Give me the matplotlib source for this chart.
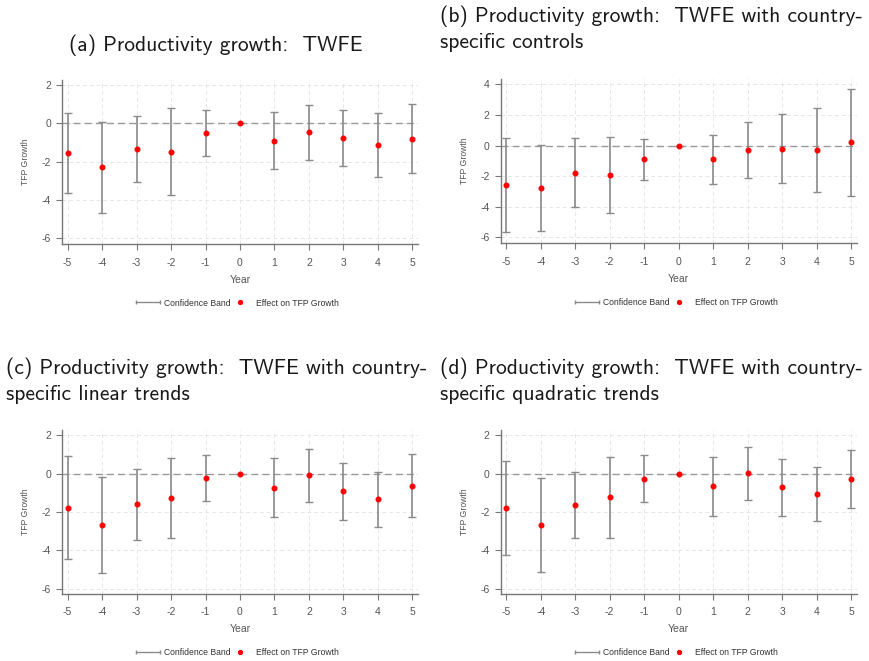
import matplotlib
matplotlib.use("Agg")
import matplotlib.pyplot as plt
from matplotlib.lines import Line2D
from matplotlib.legend_handler import HandlerLine2D
import numpy as np

years = [-5, -4, -3, -2, -1, 0, 1, 2, 3, 4, 5]

# (a) TWFE
a_est = [-1.57, -2.30, -1.32, -1.48, -0.52, 0.0, -0.90, -0.47, -0.77, -1.13, -0.80]
a_hi = [0.52, 0.09, 0.38, 0.80, 0.68, 0.0, 0.59, 0.97, 0.70, 0.52, 1.03]
a_lo = [-3.65, -4.70, -3.04, -3.76, -1.72, 0.0, -2.40, -1.91, -2.23, -2.78, -2.61]

# (b) TWFE with country-specific controls
b_est = [-2.57, -2.76, -1.78, -1.93, -0.89, 0.0, -0.91, -0.26, -0.20, -0.30, 0.20]
b_hi = [0.50, 0.04, 0.52, 0.54, 0.46, 0.0, 0.72, 1.54, 2.09, 2.43, 3.72]
b_lo = [-5.63, -5.57, -4.04, -4.39, -2.22, 0.0, -2.50, -2.09, -2.43, -3.02, -3.30]

# (c) TWFE with country-specific linear trends
c_est = [-1.77, -2.66, -1.60, -1.25, -0.23, 0.0, -0.73, -0.09, -0.90, -1.34, -0.63]
c_hi = [0.94, -0.17, 0.26, 0.83, 0.99, 0.0, 0.82, 1.29, 0.57, 0.10, 1.03]
c_lo = [-4.43, -5.15, -3.44, -3.34, -1.44, 0.0, -2.26, -1.46, -2.40, -2.80, -2.26]

# (d) TWFE with country-specific quadratic trends
d_est = [-1.79, -2.68, -1.63, -1.23, -0.28, 0.0, -0.66, 0.02, -0.71, -1.08, -0.28]
d_hi = [0.66, -0.23, 0.09, 0.89, 0.97, 0.0, 0.87, 1.41, 0.77, 0.33, 1.22]
d_lo = [-4.23, -5.11, -3.36, -3.37, -1.50, 0.0, -2.21, -1.37, -2.23, -2.49, -1.77]

titles = [
    "(a) Productivity growth:  TWFE",
    "(b) Productivity growth:  TWFE with country-\nspecific controls",
    "(c) Productivity growth:  TWFE with country-\nspecific linear trends",
    "(d) Productivity growth:  TWFE with country-\nspecific quadratic trends",
]

W, H = 869, 661
fig = plt.figure(figsize=(W / 100, H / 100), dpi=100)
fig.patch.set_facecolor("white")

GRAY = "#8a8a8a"
TXT = "#555555"
SANS = ["Liberation Sans", "DejaVu Sans"]


class DotNearText(HandlerLine2D):
    """Single marker placed at the right end of the handle box, close to its label."""

    def get_xdata(self, legend, xdescent, ydescent, width, height, fontsize):
        xdata = np.array([-xdescent, -xdescent + width])
        return xdata, np.array([-xdescent + 1.07 * width])


def px_axes(left, top, right, bottom):
    return fig.add_axes([left / W, 1 - bottom / H, (right - left) / W, (bottom - top) / H])


panels = [
    dict(box=(62, 80, 418, 244), ylim=(-6.30, 2.26), yt=[-6, -4, -2, 0, 2],
         est=a_est, lo=a_lo, hi=a_hi),
    dict(box=(500.7, 79, 856.7, 243.3), ylim=(-6.39, 4.35), yt=[-6, -4, -2, 0, 2, 4],
         est=b_est, lo=b_lo, hi=b_hi),
    dict(box=(62, 429.5, 418, 593.5), ylim=(-6.24, 2.30), yt=[-6, -4, -2, 0, 2],
         est=c_est, lo=c_lo, hi=c_hi),
    dict(box=(500.7, 429.5, 856.7, 593.5), ylim=(-6.24, 2.30), yt=[-6, -4, -2, 0, 2],
         est=d_est, lo=d_lo, hi=d_hi),
]

for p in panels:
    ax = px_axes(*p["box"])
    x = np.array(years)
    est = np.array(p["est"])
    lo = np.array(p["lo"])
    hi = np.array(p["hi"])
    ax.axhline(0, color="#999999", lw=1.0, ls=(0, (5, 3)), zorder=1)
    ax.errorbar(x, est, yerr=[est - lo, hi - est], fmt="none", ecolor=GRAY,
                elinewidth=1.2, capsize=2.6, capthick=1.0, zorder=2)
    ax.plot(x, est, "o", color="#ff0000", ms=3.3, mec="#ff0000", zorder=3)
    ax.set_xlim(-5.16, 5.16)
    ax.set_ylim(*p["ylim"])
    ax.set_xticks(years)
    ax.set_yticks(p["yt"])
    ax.set_xticklabels([str(v) for v in years])
    ax.set_yticklabels([str(v) for v in p["yt"]])
    ax.grid(True, color="#e6e6e6", lw=0.7, ls=(0, (4, 3)))
    ax.set_axisbelow(True)
    for s in ("top", "right"):
        ax.spines[s].set_visible(False)
    for s in ("left", "bottom"):
        ax.spines[s].set_color("#777777")
        ax.spines[s].set_linewidth(1.0)
    ax.tick_params(axis="both", colors="#777777", labelcolor=TXT, labelsize=7.5,
                   length=4, width=0.8)
    ax.tick_params(axis="x", pad=6)
    ax.tick_params(axis="y", pad=4)
    for lab in ax.get_xticklabels() + ax.get_yticklabels():
        lab.set_family(SANS)
    ax.set_ylabel("TFP Growth", family=SANS, fontsize=6.2, color=TXT, labelpad=8)
    ax.set_xlabel("Year", family=SANS, fontsize=7.5, color=TXT, labelpad=5)

    band = Line2D([], [], color=GRAY, lw=1.0, marker="|", ms=3.5, mew=1.0)
    dot = Line2D([], [], color="#ff0000", marker="o", ls="none", ms=2.8)
    cx = ((p["box"][0] + p["box"][2]) / 2 - 2.5) / W
    ax.legend([band, dot], ["Confidence Band", "Effect on TFP Growth"],
              loc="center", bbox_to_anchor=(cx, 1 - (p["box"][3] + 59) / H),
              bbox_transform=fig.transFigure, ncol=2, frameon=False,
              prop=dict(family=SANS, size=6.2), labelcolor="#333333",
              handlelength=2.8, handletextpad=0.4, columnspacing=-0.25,
              handler_map={band: HandlerLine2D(numpoints=2, marker_pad=0.0),
                           dot: DotNearText(numpoints=1)})

tfont = dict(family=["cmss10", "DejaVu Sans"], fontsize=15.5, color="#1a1a1a")
fig.text(216 / W, 1 - 45 / H, titles[0], ha="center", va="center", **tfont)
fig.text(440 / W, 1 - 29 / H, titles[1], ha="left", va="center", linespacing=1.42, **tfont)
fig.text(6 / W, 1 - 381 / H, titles[2], ha="left", va="center", linespacing=1.42, **tfont)
fig.text(440 / W, 1 - 381 / H, titles[3], ha="left", va="center", linespacing=1.42, **tfont)

fig.savefig("out.png", dpi=100, facecolor="white")
